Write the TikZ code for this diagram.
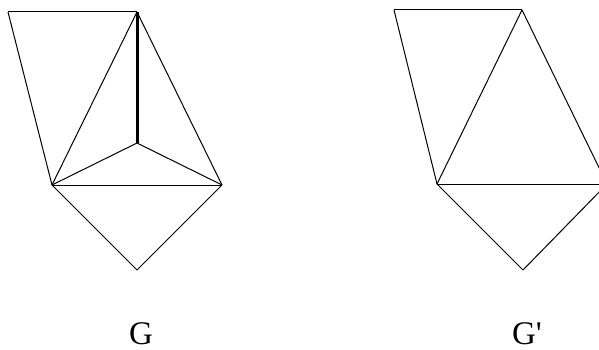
\documentclass[tikz,border=0pt]{standalone}
\usepackage{fontspec}
\setmainfont{Liberation Serif}
\usetikzlibrary{positioning}
\tikzset{
	edge/.style    ={draw=black, line width=1pt},
	heavyedge/.style={draw=black, line width=3pt},
	glabel/.style  ={font=\fontsize{33}{36}\selectfont, inner sep=0pt},
}

\begin{document}
\begin{tikzpicture}[x=1pt, y=-1pt]
					\useasboundingbox (0,0) rectangle (599,350);
					\clip (0,0) rectangle (599,350);
					% graph G
					\coordinate (gtl) at (8,12);   \coordinate (ga) at (137,12);
					\coordinate (gl) at (52,185);  \coordinate (gr) at (222,185);
					\coordinate (gc) at (137,143); \coordinate (gb) at (137,270);
					\draw[edge] (gtl) -- (ga); \draw[edge] (gtl) -- (gl);
					\draw[edge] (ga) -- (gl);  \draw[edge] (ga) -- (gr);
					\draw[edge] (gc) -- (gl);  \draw[edge] (gc) -- (gr);
					\draw[edge] (gl) -- (gr);  \draw[edge] (gl) -- (gb);
					\draw[edge] (gr) -- (gb);
					\draw[heavyedge] (ga) -- (gc);
					% graph G'
					\coordinate (htl) at (394,10); \coordinate (ha) at (522,10);
					\coordinate (hl) at (437,184); \coordinate (hr) at (607,184);
					\coordinate (hb) at (523,270);
					\draw[edge] (htl) -- (ha); \draw[edge] (htl) -- (hl);
					\draw[edge] (ha) -- (hl);  \draw[edge] (ha) -- (hr);
					\draw[edge] (hl) -- (hr);  \draw[edge] (hl) -- (hb);
					\draw[edge] (hr) -- (hb);
					% labels
					\node[glabel, anchor=base] (lg) at (141,344) {G};
					\node[glabel, anchor=base] (lh) at (527,344) {G\textquotesingle};
				\end{tikzpicture}
\end{document}
